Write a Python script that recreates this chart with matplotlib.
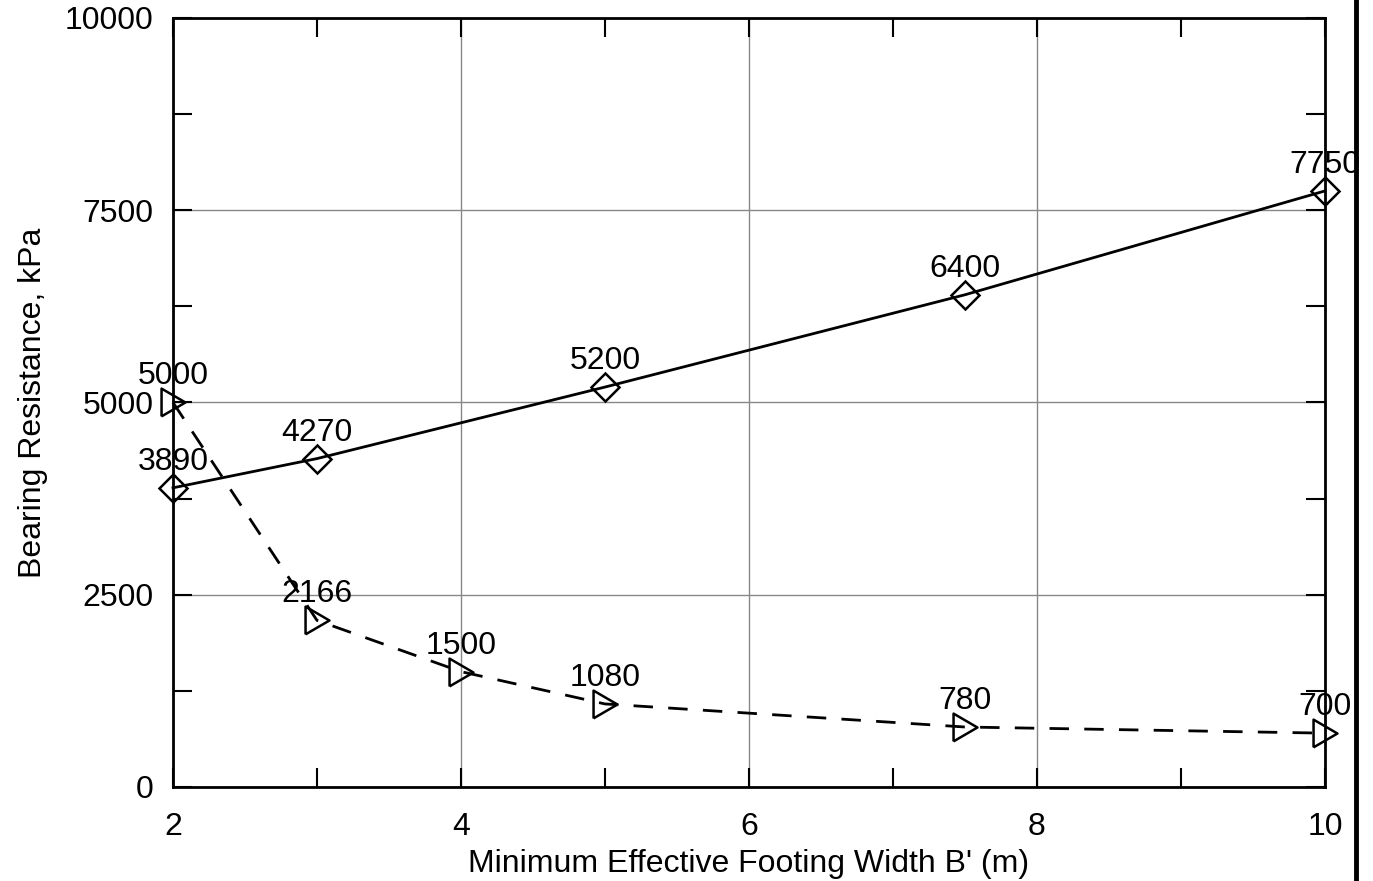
import matplotlib.pyplot as plt
from matplotlib.ticker import MultipleLocator
from matplotlib.lines import Line2D

plt.rcParams["font.family"] = ["Liberation Sans", "DejaVu Sans"]

# Données
b_solid = [2, 3, 5, 7.5, 10]
q_solid = [3890, 4270, 5200, 6400, 7750]
b_dash = [2, 3, 4, 5, 7.5, 10]
q_dash = [5000, 2166, 1500, 1080, 780, 700]

# triangle un peu plus étroit que haut
tri = [(-0.86, -1), (0.86, 0), (-0.86, 1), (-0.86, -1)]

fig = plt.figure(figsize=(13.73, 8.81), dpi=100)
ax = fig.add_axes([0.126, 0.1067, 0.839, 0.873])

ax.plot(b_solid, q_solid, color="black", lw=2, marker="D", ms=14.5,
        mfc="none", mec="black", mew=1.8, clip_on=False, zorder=3)
ax.plot(b_dash, q_dash, color="black", lw=2, ls=(0, (7, 5.5)), marker=tri,
        ms=20, mfc="none", mec="black", mew=1.8, clip_on=False, zorder=3)

for x, y in zip(b_solid, q_solid):
    ax.annotate(str(y), (x, y), xytext=(0, 13), textcoords="offset points",
                ha="center", va="baseline", fontsize=23, annotation_clip=False)
for x, y in zip(b_dash, q_dash):
    ax.annotate(str(y), (x, y), xytext=(0, 13), textcoords="offset points",
                ha="center", va="baseline", fontsize=23, annotation_clip=False)

ax.set_xlim(2, 10)
ax.set_ylim(0, 10000)
ax.xaxis.set_major_locator(MultipleLocator(2))
ax.xaxis.set_minor_locator(MultipleLocator(1))
ax.yaxis.set_major_locator(MultipleLocator(2500))
ax.yaxis.set_minor_locator(MultipleLocator(1250))
ax.grid(True, which="major", color="#888888", lw=1)

ax.tick_params(which="both", direction="in", top=True, right=True,
               width=1.5, length=14, labelsize=23)
ax.tick_params(axis="x", pad=18)
ax.tick_params(axis="y", pad=14)
for s in ax.spines.values():
    s.set_linewidth(2)

ax.set_xlabel("Minimum Effective Footing Width B' (m)", fontsize=23, labelpad=5)
ax.set_ylabel("Bearing Resistance, kPa", fontsize=23, labelpad=12)

# trait épais à droite de la figure
fig.add_artist(Line2D([1356 / 1373, 1356 / 1373], [0, 1], color="black", lw=3.5,
                      transform=fig.transFigure))

fig.savefig("out.png", dpi=100)
